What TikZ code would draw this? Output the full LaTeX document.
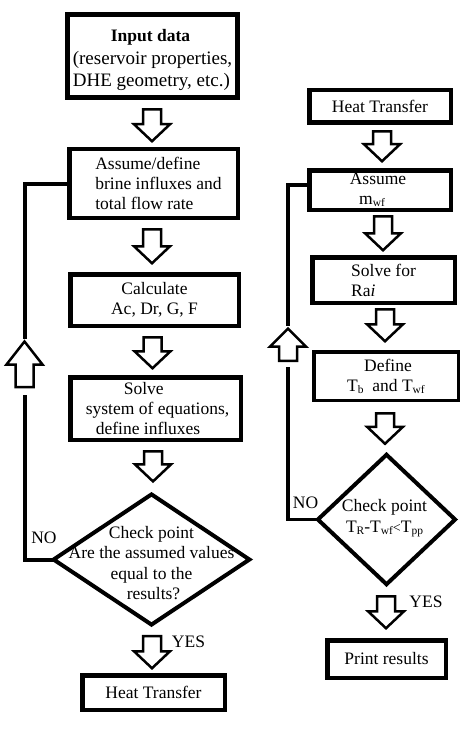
\documentclass[tikz,border=0pt]{standalone}
\usepackage{fontspec}
\setmainfont{Liberation Serif}
\usetikzlibrary{calc,shapes.geometric}
\newcommand\fsub[1]{\raisebox{-2bp}{\fontsize{11.5}{11.5}\selectfont #1}}
\tikzset{
  box/.style={draw=black, fill=white, line width=4.5bp, inner sep=0pt, outer sep=0pt,
    font=\fontsize{17.5bp}{20bp}\selectfont},
  dia/.style={draw=black, shape=diamond, line width=4bp, inner sep=0pt, outer sep=0pt},
  txt/.style={inner sep=0pt, font=\fontsize{17.5bp}{20.5bp}\selectfont},
  blk/.style={draw=black, fill=white, line width=2.5bp, line join=miter},
  fb/.style={draw=black, line width=4bp, line join=miter},
}
\newcommand\arrdn[3]{\draw[blk] let \p1=#1, \p2=#2 in
  (\x1-9bp,\y1) -- (\x1+9bp,\y1) -- (\x1+9bp,\y2+#3bp) -- (\x1+18bp,\y2+#3bp) --
  (\x1,\y2) -- (\x1-18bp,\y2+#3bp) -- (\x1-9bp,\y2+#3bp) -- cycle;}
\newcommand\arrup[3]{\draw[blk] let \p1=#1, \p2=#2 in
  (\x1-9bp,\y1) -- (\x1+9bp,\y1) -- (\x1+9bp,\y2-#3bp) -- (\x1+18bp,\y2-#3bp) --
  (\x1,\y2) -- (\x1-18bp,\y2-#3bp) -- (\x1-9bp,\y2-#3bp) -- cycle;}
\begin{document}
\begin{tikzpicture}[x=1bp,y=-1bp]
\fill[white] (0,0) rectangle (474,730);
\useasboundingbox (0,0) rectangle (474,730);

% ---------- left column ----------
\node[box, line width=5bp, minimum width=170bp, minimum height=83bp, align=left,
  font=\fontsize{19bp}{22.5bp}\selectfont] (in) at (152.5,56)
  {\rule{0pt}{21bp}\hspace*{38bp}{\fontsize{17.5bp}{22.5bp}\selectfont\bfseries Input data}\\(reservoir properties,\\DHE geometry, etc.)};
\node[box, minimum width=168.5bp, minimum height=68.5bp, align=left] (def) at (153.5,183.5)
  {\hspace*{10bp}Assume/define\\\hspace*{10bp}brine influxes and\\\hspace*{10bp}total flow rate};
\node[box, minimum width=168.5bp, minimum height=51.5bp, align=center] (calc) at (154.5,300)
  {Calculate\\Ac, Dr, G, F};
\node[box, minimum width=170.5bp, minimum height=62.5bp, align=left] (slv) at (155.5,408.5)
  {\hspace*{42bp}Solve\\\hspace*{4bp}system of equations,\\\hspace*{14bp}define influxes};
\node[dia, minimum width=195.8bp, minimum height=130.2bp] (dmL) at (151.5,559.5) {};
\node[txt, align=center] (dLt) at (151.5,563)
  {Check point\\Are the assumed values\\equal to the\hspace*{14bp}\\\hspace*{4bp}results?};
\node[box, minimum width=142.5bp, minimum height=34.5bp] (htL) at (153.5,692.5) {Heat Transfer};

\arrdn{($(in.south)+(-0.5,11.75)$)}{($(def.north)+(0,-8)$)}{17}
\arrdn{($(def.south)+(-1.5,11.5)$)}{($(calc.north)+(0,-11)$)}{17}
\arrdn{($(calc.south)+(-2,11.5)$)}{($(slv.north)+(0,-9)$)}{17}
\arrdn{($(slv.south)+(-2.5,11.5)$)}{($(dmL.north)+(0,-13)$)}{17}
\arrdn{($(dmL.south)+(0.5,11.5)$)}{($(htL.north)+(0,-7)$)}{17}

\node[txt] (noL) at (44,538) {NO};
\node[txt] (yesL) at (188.5,642) {YES};

\coordinate (uLb) at (24.5,387);
\coordinate (uLt) at (24.5,341.5);
\coordinate (gLa) at (24.5,339);
\coordinate (gLb) at (24.5,395);
\draw[fb] (def.west) -| (gLa);
\draw[fb] (dmL.west) -| (gLb);
\arrup{(uLb)}{(uLt)}{23}

% ---------- right column ----------
\node[box, minimum width=141.5bp, minimum height=32.5bp] (htR) at (380,106.5) {Heat Transfer};
\node[box, minimum width=141.5bp, minimum height=39.5bp, align=center] (asm) at (380,190)
  {Assume\hspace*{4bp}\\m\fsub{wf}\hspace*{16bp}};
\node[box, minimum width=142.5bp, minimum height=45.5bp, align=left] (sfr) at (383.5,280)
  {Solve for\\Ra\textit{i}};
\node[box, line width=3.5bp, minimum width=144.5bp, minimum height=48.5bp, align=center] (dfn) at (386,376)
  {\hspace*{4bp}Define\\T\fsub{b}\ \ and T\fsub{wf}};
\node[dia, minimum width=137.2bp, minimum height=129.5bp] (dmR) at (386.5,519.5) {};
\node[txt, align=center] (dRt) at (384.5,518)
  {Check point\\T\fsub{R}-T\fsub{wf}{\fontsize{14bp}{14bp}\selectfont<}T\fsub{pp}};
\node[box, minimum width=118.5bp, minimum height=37.5bp] (prt) at (386.5,659) {Print results};

\arrdn{($(htR.south)+(2,8.5)$)}{($(asm.north)+(0,-9)$)}{17}
\arrdn{($(asm.south)+(3,6.5)$)}{($(sfr.north)+(0,-7)$)}{17}
\arrdn{($(sfr.south)+(1.5,6.5)$)}{($(dfn.north)+(0,-10.5)$)}{17}
\arrdn{($(dfn.south)+(-1,13)$)}{($(dmR.north)+(0,-11)$)}{17}
\arrdn{($(dmR.south)+(-0.5,12)$)}{($(prt.north)+(0,-12)$)}{17}

\node[txt] (noR) at (305.5,503) {NO};
\node[txt] (yesR) at (426,601.5) {YES};

\coordinate (uRb) at (288,360.75);
\coordinate (uRt) at (288,328.7);
\coordinate (gRa) at (288,326);
\coordinate (gRb) at (288,367);
\draw[fb, line width=3.5bp] ($(asm.west)+(0,-5)$) -| (gRa);
\draw[fb, line width=3.5bp] (dmR.west) -| (gRb);
\arrup{(uRb)}{(uRt)}{18}
\end{tikzpicture}
\end{document}
